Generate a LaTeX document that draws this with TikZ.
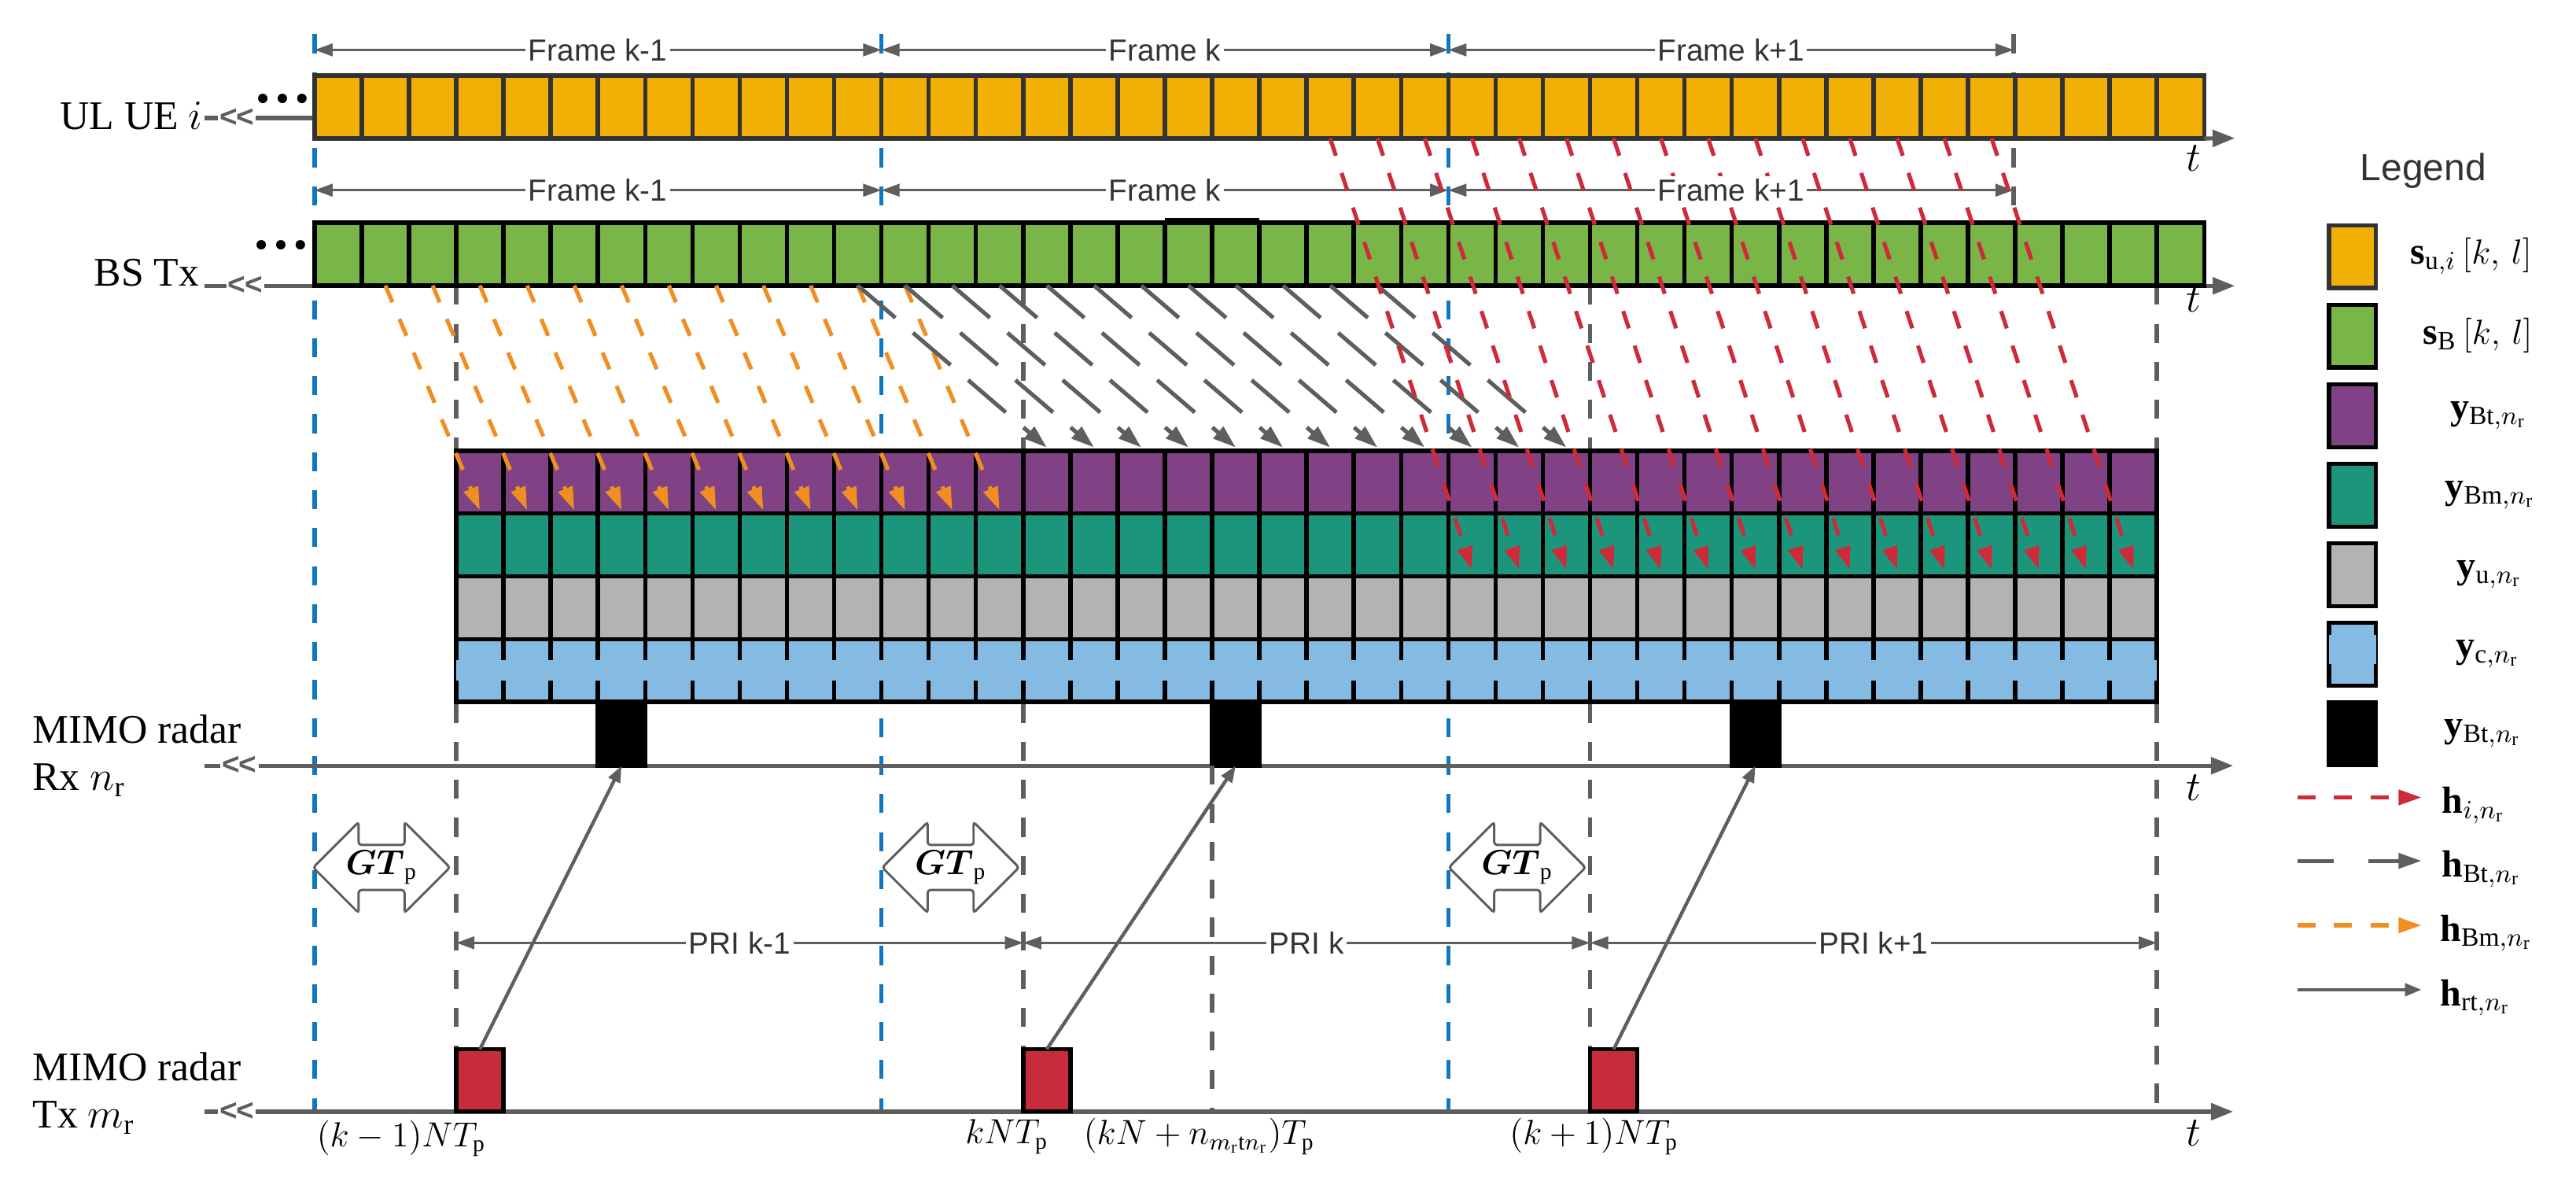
\documentclass[tikz,border=0pt]{standalone}
\usepackage{amsmath}
\usepackage{fontspec}
\setmainfont{Liberation Serif}
\newfontfamily\lsans{Liberation Sans}
\usetikzlibrary{calc}
\usetikzlibrary{arrows.meta}
\usetikzlibrary{shapes.arrows}

\definecolor{ulorange}{RGB}{242,176,7}
\definecolor{bsgreen}{RGB}{122,181,72}
\definecolor{btpurple}{RGB}{128,65,133}
\definecolor{bmteal}{RGB}{27,150,124}
\definecolor{ugray}{RGB}{179,179,179}
\definecolor{cblue}{RGB}{133,187,227}
\definecolor{fblue}{RGB}{16,120,190}
\definecolor{axgray}{RGB}{94,94,94}
\definecolor{txtgray}{RGB}{51,51,51}
\definecolor{hred}{RGB}{206,42,58}
\definecolor{horange}{RGB}{240,142,34}
\definecolor{boxred}{RGB}{200,44,58}

\tikzset{
  slot/.style={draw=black, line width=1.5pt, inner sep=0, outer sep=0, minimum width=0.572cm, minimum height=0.76cm},
  axisline/.style={draw=axgray, line width=1.4pt},
  axisarr/.style={axisline, -{Triangle[length=0.27cm,width=0.2cm]}},
  brk/.style={fill=white, text=axgray, inner sep=0.6pt, font=\lsans\bfseries\fontsize{10.5}{10.5}\selectfont},
  vdash/.style={line width=1.5pt, dash pattern=on 0.23cm off 0.23cm},
  spanarr/.style={draw=axgray, line width=0.9pt, >={Triangle[length=0.22cm,width=0.15cm]}, <->},
  spanlbl/.style={fill=white, inner sep=1pt, text=txtgray, font=\lsans\fontsize{10.5}{12}\selectfont},
  harr/.style={line width=1.4pt, -{Triangle[length=0.28cm,width=0.18cm]}},
  redarr/.style={harr, draw=hred, dash pattern=on 0.22cm off 0.22cm},
  orarr/.style={harr, draw=horange, dash pattern=on 0.22cm off 0.22cm},
  btarr/.style={harr, draw=axgray, dash pattern=on 0.6cm off 0.28cm},
  btleg/.style={btarr, dash pattern=on 0.44cm off 0.42cm},
  rtarr/.style={draw=axgray, line width=1.2pt, -{Triangle[length=0.2cm,width=0.15cm]}},
  gtarr/.style={double arrow, draw=axgray, fill=white, line width=0.8pt, double arrow head extend=0.26cm,
    minimum height=1.656cm, minimum width=1.1cm, inner sep=1pt, rounded corners=1pt, font=\fontsize{12}{12}\selectfont},
  lbl/.style={inner sep=0, font=\fontsize{14}{16.5}\selectfont},
  tlbl/.style={inner sep=0, font=\fontsize{12}{12}\selectfont},
  leglbl/.style={inner sep=0, font=\fontsize{13}{13}\selectfont}
}

\begin{document}
\begin{tikzpicture}[x=0.02cm, y=-0.02cm]
\useasboundingbox (0,0) rectangle (1559.5,721);

% frame and PRI boundaries
\foreach \n/\x in {0/190.4, 1/533.6, 2/876.8} {
  \coordinate (top\n) at (\x,20.7);
  \coordinate (bot\n) at (\x,672.8);
  \draw[vdash, fblue] (top\n) -- (bot\n);
}
\coordinate (fe0) at (1219,20.7);
\coordinate (fe1) at (1219,134);
\draw[vdash, axgray] (fe0) -- (fe1);
\foreach \n/\x in {0/276.2, 1/619.4, 2/962.6, 3/1305.8} {
  \coordinate (pu\n) at (\x,173);
  \coordinate (pd\n) at (\x,672.8);
  \coordinate (pri\n) at (\x,570.6);
  \draw[vdash, axgray] (pu\n) -- (pd\n);
}
\foreach \n/\x in {0/190.4, 1/533.6, 2/876.8, 3/1219} {
  \coordinate (fa\n) at (\x,30.2);
  \coordinate (fb\n) at (\x,115.1);
}
\foreach \a/\b in {0/1, 1/2, 2/3} {
  \draw[spanarr] (fa\a) -- (fa\b);
  \draw[spanarr] (fb\a) -- (fb\b);
}

% time axes
\coordinate (ulL) at (124,71.4);
\coordinate (ulR) at (190.4,71.4);
\coordinate (ulE) at (1353,83.6);
\coordinate (bsL) at (124,173);
\coordinate (bsE) at (1353,173);
\coordinate (rxL) at (124,463.4);
\coordinate (rxE) at (1352,463.4);
\coordinate (txL) at (124,672.8);
\coordinate (txE) at (1352,672.8);
\draw[axisline] (ulL) -- (ulR);
\draw[axisarr] (bsL) -- (bsE);
\draw[axisarr] (rxL) -- (rxE);
\draw[axisarr] (txL) -- (txE);
\node[brk] (bul) at (143.5,71.4) {<\kern-0.4pt<};
\node[brk] (bbs) at (148.5,173) {<\kern-0.4pt<};
\node[brk] (brx) at (145,463.4) {<\kern-0.4pt<};
\node[brk] (btx) at (143.5,672.8) {<\kern-0.4pt<};

% UL and BS symbols
\foreach \i in {0,...,39} {
  \node[slot, fill=ulorange, draw=txtgray] (ul\i) at ({204.7+28.6*\i},64.8) {};
  \node[slot, fill=bsgreen] (bs\i) at ({204.7+28.6*\i},153.8) {};
}
\draw[axisarr] (ul39.south east) -- (ulE);
\draw[line width=1.5pt] ($(bs18.north west)+(0,-1.5)$) -- ($(bs20.north west)+(0,-1.5)$);

% radar receive rows
\foreach \j in {0,...,35} {
  \node[slot, fill=btpurple] (bt\j) at ({290.5+28.6*\j},291.8) {};
  \node[slot, fill=bmteal] (bm\j) at ({290.5+28.6*\j},329.8) {};
  \node[slot, fill=ugray] (yu\j) at ({290.5+28.6*\j},367.8) {};
  \node[slot, fill=cblue] (yc\j) at ({290.5+28.6*\j},405.8) {};
}
\fill[cblue] ($(yc0.west)+(0,-6.2)$) rectangle ($(yc35.east)+(0,6.2)$);

% pulses
\foreach \n/\j in {0/3, 1/16, 2/27}
  \node[slot, fill=black, minimum height=0.77cm] (rx\n) at ({290.5+28.6*\j},444.2) {};
\foreach \n/\j in {0/0, 1/12, 2/24}
  \node[slot, fill=boxred, minimum height=0.75cm] (tx\n) at ({290.5+28.6*\j},653.8) {};
\draw[vdash, axgray] (rx1.south west) -- (rx1.south west |- txL);

\node[gtarr] (gt0) at (231,525) {$\boldsymbol{GT}_\mathrm{p}$};
\node[gtarr] (gt1) at (575.5,525) {$\boldsymbol{GT}_\mathrm{p}$};
\node[gtarr] (gt2) at (918.5,525) {$\boldsymbol{GT}_\mathrm{p}$};

\foreach \a/\b/\t in {0/1/k-1, 1/2/k, 2/3/k+1} {
  \draw[spanarr] (pri\a) -- (pri\b);
  \node[spanlbl] (lpri\a) at ($(pri\a)!0.5!(pri\b)$) {PRI \t};
}
\foreach \n in {0,1,2}
  \draw[rtarr] (tx\n.north) -- (rx\n.south);

% channels
\foreach \i in {1,...,12} {
  \pgfmathtruncatemacro\k{\i-1}
  \draw[orarr] (bs\i.south) -- ($(bt\k.south)+(0,-2)$);
}
\foreach \i in {11,...,22} {
  \pgfmathtruncatemacro\k{\i+1}
  \draw[btarr] (bs\i.south) -- ($(bt\k.north)+(0,-2)$);
}
\foreach \i in {21,...,35}
  \draw[redarr] (ul\i.south) -- ($(bm\i.south)+(0,-4)$);

\foreach \a/\b/\t in {0/1/k-1, 1/2/k, 2/3/k+1} {
  \node[spanlbl] (lfa\a) at ($(fa\a)!0.5!(fa\b)$) {Frame \t};
  \node[spanlbl] (lfb\a) at ($(fb\a)!0.5!(fb\b)$) {Frame \t};
}

% labels
\node[lbl, anchor=east] (lul) at (123,70) {UL UE $i$};
\node[lbl, anchor=base east] (lbs) at (121,173) {BS Tx};
\node[lbl, anchor=north west] (lrx) at (19.4,432.5) {MIMO radar};
\node[lbl, anchor=base west] (lrx2) at (19.4,478.4) {Rx $n_\mathrm{r}$};
\node[lbl, anchor=north west] (ltx) at (19.4,636.5) {MIMO radar};
\node[lbl, anchor=base west] (ltx2) at (19.4,682.4) {Tx $m_\mathrm{r}$};
\node[inner sep=0, font=\bfseries\fontsize{20}{20}\selectfont] (dul) at (171,60) {…};
\node[inner sep=0, font=\bfseries\fontsize{20}{20}\selectfont] (dbs) at (170,148.5) {…};
\foreach \n/\y in {0/95.6, 1/181, 2/476.5, 3/685.6}
  \node[lbl] (t\n) at (1328,\y) {$t$};
\node[tlbl] (lk0) at (243,689) {$(k-1)NT_\mathrm{p}$};
\node[tlbl] (lk1) at (609.5,688) {$kNT_\mathrm{p}$};
\node[tlbl] (lk2) at (726,688) {$(kN+n_{m_\mathrm{r}\mathrm{t}n_\mathrm{r}})T_\mathrm{p}$};
\node[tlbl] (lk3) at (965,688) {$(k+1)NT_\mathrm{p}$};

% legend
\node[text=txtgray, font=\lsans\fontsize{13}{13}\selectfont] (leg) at (1467,103.3) {Legend};
\node[slot, fill=ulorange, draw=txtgray, minimum width=0.568cm] (lg0) at (1424.2,155.4) {};
\foreach \n/\c in {1/bsgreen, 2/btpurple, 3/bmteal, 4/ugray, 5/cblue, 6/black}
  \node[slot, fill=\c, minimum width=0.568cm] (lg\n) at (1424.2,{155.4+48.1*\n}) {};
\fill[cblue] ($(lg5.west)+(0,-11.8)$) rectangle ($(lg5.east)+(0,5.9)$);
\node[leglbl] (ll0) at (1496,155) {$\mathbf{s}_{\mathrm{u},i}\,[k,\,l]$};
\node[leglbl] (ll1) at (1500,203) {$\mathbf{s}_{\mathrm{B}}\,[k,\,l]$};
\node[leglbl] (ll2) at (1506.5,251.6) {$\mathbf{y}_{\mathrm{Bt},n_\mathrm{r}}$};
\node[leglbl] (ll3) at (1507.5,299.7) {$\mathbf{y}_{\mathrm{Bm},n_\mathrm{r}}$};
\node[leglbl] (ll4) at (1507,347.8) {$\mathbf{y}_{\mathrm{u},n_\mathrm{r}}$};
\node[leglbl] (ll5) at (1506,395.9) {$\mathbf{y}_{\mathrm{c},n_\mathrm{r}}$};
\node[leglbl] (ll6) at (1503,444) {$\mathbf{y}_{\mathrm{Bt},n_\mathrm{r}}$};
\foreach \n/\s/\y in {0/redarr/482.6, 1/btleg/521, 2/orarr/560, 3/rtarr/599} {
  \coordinate (ha\n) at (1391,\y);
  \coordinate (hb\n) at (1466,\y);
  \draw[\s] (ha\n) -- (hb\n);
}
\node[leglbl, anchor=base west] (hl0) at ($(hb0)+(12,9.6)$) {$\mathbf{h}_{i,n_\mathrm{r}}$};
\node[leglbl, anchor=base west] (hl1) at ($(hb1)+(12,9.6)$) {$\mathbf{h}_{\mathrm{Bt},n_\mathrm{r}}$};
\node[leglbl, anchor=base west] (hl2) at ($(hb2)+(11,9.6)$) {$\mathbf{h}_{\mathrm{Bm},n_\mathrm{r}}$};
\node[leglbl, anchor=base west] (hl3) at ($(hb3)+(11,9.6)$) {$\mathbf{h}_{\mathrm{rt},n_\mathrm{r}}$};
\end{tikzpicture}
\end{document}
